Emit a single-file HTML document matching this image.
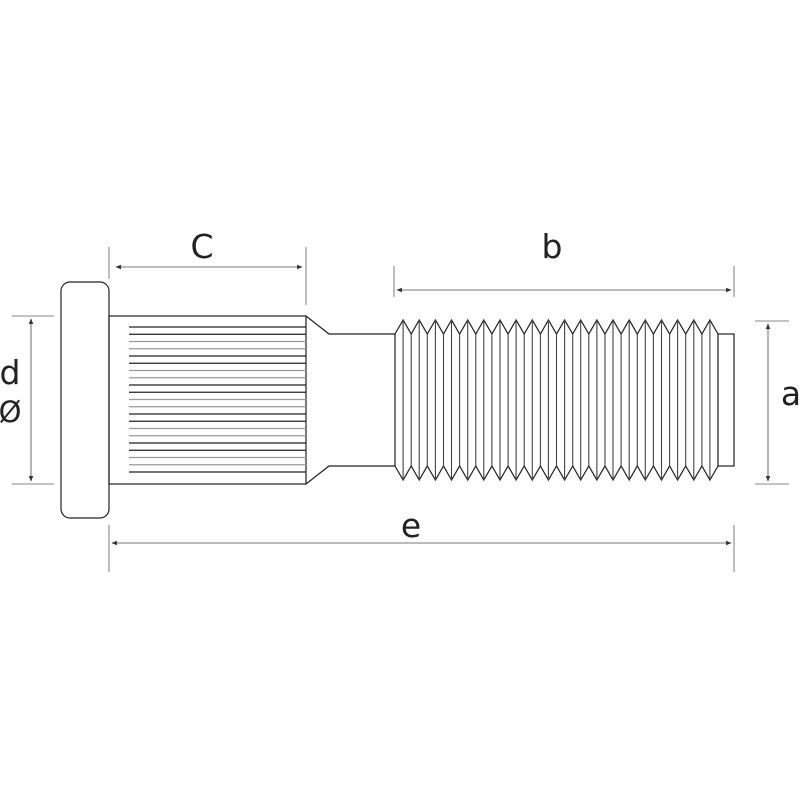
<!DOCTYPE html>
<html><head><meta charset="utf-8"><style>html,body{margin:0;padding:0;background:#fff}svg{display:block}text{font-family:"DejaVu Sans","Liberation Sans",sans-serif;fill:#222}</style></head>
<body>
<svg width="800" height="800" viewBox="0 0 800 800" xmlns="http://www.w3.org/2000/svg">
<defs>
<marker id="ar" viewBox="0 0 10 10" refX="9" refY="5" markerWidth="5" markerHeight="5" orient="auto-start-reverse"><path d="M0,1 L10,5 L0,9 z" fill="#333"/></marker>
</defs>
<rect x="61" y="282" width="48" height="236" rx="9" fill="none" stroke="#222" stroke-width="1.2"/>
<rect x="109" y="316" width="197" height="168" fill="none" stroke="#222" stroke-width="1.2"/>
<g stroke-width="1.3">
<line x1="129" y1="327" x2="306" y2="327" stroke="#222"/>
<line x1="129" y1="334.25" x2="306" y2="334.25" stroke="#222"/>
<line x1="129" y1="341.5" x2="306" y2="341.5" stroke="#999"/>
<line x1="129" y1="348.75" x2="306" y2="348.75" stroke="#999"/>
<line x1="129" y1="356" x2="306" y2="356" stroke="#222"/>
<line x1="129" y1="363.25" x2="306" y2="363.25" stroke="#222"/>
<line x1="129" y1="370.5" x2="306" y2="370.5" stroke="#999"/>
<line x1="129" y1="377.75" x2="306" y2="377.75" stroke="#999"/>
<line x1="129" y1="385" x2="306" y2="385" stroke="#222"/>
<line x1="129" y1="392.25" x2="306" y2="392.25" stroke="#222"/>
<line x1="129" y1="399.5" x2="306" y2="399.5" stroke="#999"/>
<line x1="129" y1="406.75" x2="306" y2="406.75" stroke="#999"/>
<line x1="129" y1="414" x2="306" y2="414" stroke="#222"/>
<line x1="129" y1="421.25" x2="306" y2="421.25" stroke="#222"/>
<line x1="129" y1="428.5" x2="306" y2="428.5" stroke="#999"/>
<line x1="129" y1="435.75" x2="306" y2="435.75" stroke="#999"/>
<line x1="129" y1="443" x2="306" y2="443" stroke="#222"/>
<line x1="129" y1="450.25" x2="306" y2="450.25" stroke="#222"/>
<line x1="129" y1="457.5" x2="306" y2="457.5" stroke="#999"/>
<line x1="129" y1="464.75" x2="306" y2="464.75" stroke="#999"/>
<line x1="129" y1="472" x2="306" y2="472" stroke="#222"/>
</g>
<path d="M306,316 L329,334 L395,334 M306,484 L329,466 L395,466 M395,334 L395,466" fill="none" stroke="#222" stroke-width="1.2"/>
<polyline fill="none" stroke="#222" stroke-width="1.2" points="395,334 403.1,320 411.2,334 419.2,320 427.3,334 435.4,320 443.5,334 451.5,320 459.6,334 467.7,320 475.8,334 483.8,320 491.9,334 500,320 508.1,334 516.1,320 524.2,334 532.3,320 540.4,334 548.4,320 556.5,334 564.6,320 572.7,334 580.7,320 588.8,334 596.9,320 605,334 613,320 621.1,334 629.2,320 637.3,334 645.3,320 653.4,334 661.5,320 669.6,334 677.6,320 685.7,334 693.8,320 701.9,334 709.9,320 718,334"/>
<polyline fill="none" stroke="#222" stroke-width="1.2" points="395,466 403.1,480 411.2,466 419.2,480 427.3,466 435.4,480 443.5,466 451.5,480 459.6,466 467.7,480 475.8,466 483.8,480 491.9,466 500,480 508.1,466 516.1,480 524.2,466 532.3,480 540.4,466 548.4,480 556.5,466 564.6,480 572.7,466 580.7,480 588.8,466 596.9,480 605,466 613,480 621.1,466 629.2,480 637.3,466 645.3,480 653.4,466 661.5,480 669.6,466 677.6,480 685.7,466 693.8,480 701.9,466 709.9,480 718,466"/>
<g stroke="#444" stroke-width="1.1">
<line x1="403.1" y1="320" x2="403.1" y2="480"/><line x1="411.2" y1="334" x2="411.2" y2="466"/>
<line x1="419.2" y1="320" x2="419.2" y2="480"/><line x1="427.3" y1="334" x2="427.3" y2="466"/>
<line x1="435.4" y1="320" x2="435.4" y2="480"/><line x1="443.5" y1="334" x2="443.5" y2="466"/>
<line x1="451.5" y1="320" x2="451.5" y2="480"/><line x1="459.6" y1="334" x2="459.6" y2="466"/>
<line x1="467.7" y1="320" x2="467.7" y2="480"/><line x1="475.8" y1="334" x2="475.8" y2="466"/>
<line x1="483.8" y1="320" x2="483.8" y2="480"/><line x1="491.9" y1="334" x2="491.9" y2="466"/>
<line x1="500" y1="320" x2="500" y2="480"/><line x1="508.1" y1="334" x2="508.1" y2="466"/>
<line x1="516.1" y1="320" x2="516.1" y2="480"/><line x1="524.2" y1="334" x2="524.2" y2="466"/>
<line x1="532.3" y1="320" x2="532.3" y2="480"/><line x1="540.4" y1="334" x2="540.4" y2="466"/>
<line x1="548.4" y1="320" x2="548.4" y2="480"/><line x1="556.5" y1="334" x2="556.5" y2="466"/>
<line x1="564.6" y1="320" x2="564.6" y2="480"/><line x1="572.7" y1="334" x2="572.7" y2="466"/>
<line x1="580.7" y1="320" x2="580.7" y2="480"/><line x1="588.8" y1="334" x2="588.8" y2="466"/>
<line x1="596.9" y1="320" x2="596.9" y2="480"/><line x1="605" y1="334" x2="605" y2="466"/>
<line x1="613" y1="320" x2="613" y2="480"/><line x1="621.1" y1="334" x2="621.1" y2="466"/>
<line x1="629.2" y1="320" x2="629.2" y2="480"/><line x1="637.3" y1="334" x2="637.3" y2="466"/>
<line x1="645.3" y1="320" x2="645.3" y2="480"/><line x1="653.4" y1="334" x2="653.4" y2="466"/>
<line x1="661.5" y1="320" x2="661.5" y2="480"/><line x1="669.6" y1="334" x2="669.6" y2="466"/>
<line x1="677.6" y1="320" x2="677.6" y2="480"/><line x1="685.7" y1="334" x2="685.7" y2="466"/>
<line x1="693.8" y1="320" x2="693.8" y2="480"/><line x1="701.9" y1="334" x2="701.9" y2="466"/>
<line x1="709.9" y1="320" x2="709.9" y2="480"/><line x1="718" y1="334" x2="718" y2="466"/>
</g>
<rect x="718" y="334" width="16" height="132" fill="none" stroke="#222" stroke-width="1.2"/>
<g stroke="#888" stroke-width="1.1">
<line x1="109" y1="247" x2="109" y2="279"/><line x1="306" y1="247" x2="306" y2="305"/>
<line x1="394" y1="266" x2="394" y2="297"/><line x1="734" y1="266" x2="734" y2="297"/>
<line x1="755" y1="321" x2="789" y2="321"/><line x1="755" y1="484" x2="789" y2="484"/>
<line x1="12" y1="316" x2="54" y2="316"/><line x1="12" y1="484" x2="54" y2="484"/>
<line x1="109" y1="525" x2="109" y2="572"/><line x1="734" y1="525" x2="734" y2="572"/>
</g>
<g stroke="#777" stroke-width="1.1" marker-start="url(#ar)" marker-end="url(#ar)">
<line x1="116" y1="267" x2="302" y2="267"/>
<line x1="397" y1="290" x2="731" y2="290"/>
<line x1="768" y1="324" x2="768" y2="481"/>
<line x1="31" y1="319" x2="31" y2="481"/>
<line x1="112" y1="543" x2="731" y2="543"/>
</g>
<text x="202" y="258" font-size="33" text-anchor="middle">C</text>
<text x="552" y="258" font-size="33" text-anchor="middle">b</text>
<text x="791" y="405" font-size="33" text-anchor="middle">a</text>
<text x="10" y="384" font-size="33" text-anchor="middle">d</text>
<text x="10" y="422" font-size="29" text-anchor="middle">Ø</text>
<text x="411" y="537" font-size="33" text-anchor="middle">e</text>
</svg>
</body></html>
